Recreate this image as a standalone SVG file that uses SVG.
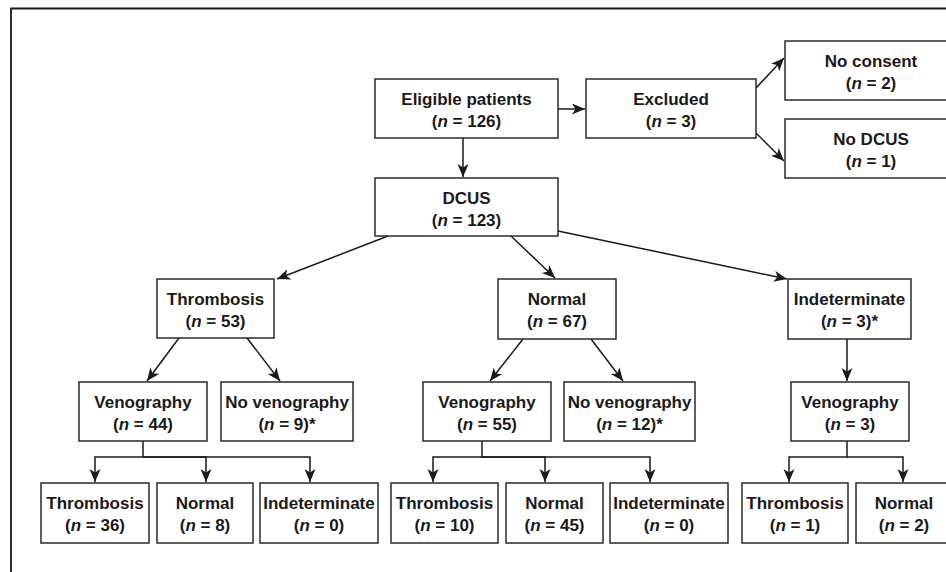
<svg xmlns="http://www.w3.org/2000/svg" width="946" height="572" viewBox="0 0 946 572">
<defs>
<marker id="ah" markerUnits="userSpaceOnUse" markerWidth="14" markerHeight="12" refX="13" refY="5.5" orient="auto">
<path d="M0,0 L13,5.5 L0,11 L3.5,5.5 z" fill="#1a1a1a"/>
</marker>
<style>
rect{fill:#fff;stroke:#2a2a2a;stroke-width:1.5}
text{font-family:"Liberation Sans",Arial,sans-serif;font-weight:bold;font-size:17px;fill:#1a1a1a;text-anchor:middle}
.i{font-style:italic}
#connectors path{fill:none;stroke:#1a1a1a;stroke-width:1.5}
.a{marker-end:url(#ah)}
</style>
</defs>
<rect width="946" height="572" style="stroke:none"/>
<path d="M11,572 V8.5 H946" fill="none" stroke="#1a1a1a" stroke-width="1.8"/>
<g id="connectors">
<path class="a" d="M558,109 H585"/>
<path class="a" d="M756,88 L784,58"/>
<path class="a" d="M756,133 L784,161"/>
<path class="a" d="M463,138 V177"/>
<path class="a" d="M388,236 L277,279"/>
<path class="a" d="M511,236 L555,278"/>
<path class="a" d="M558,231 L787,279"/>
<path class="a" d="M179,338 L147,381"/>
<path class="a" d="M247,338 L280,381"/>
<path class="a" d="M523,339 L490,381"/>
<path class="a" d="M591,339 L623,381"/>
<path class="a" d="M847,339 V381"/>
<path class="a" d="M143,441 V457 H95 V482"/>
<path class="a" d="M143,457 H206 V482"/>
<path class="a" d="M143,457 H310 V482"/>
<path class="a" d="M482,441 V457 H433 V482"/>
<path class="a" d="M482,457 H545 V482"/>
<path class="a" d="M482,457 H650 V482"/>
<path class="a" d="M847,441 V457 H789 V482"/>
<path class="a" d="M847,457 H903 V482"/>
</g>
<g id="eligible"><rect x="375" y="79" width="183" height="59"/><text x="466.5" y="105">Eligible patients</text><text x="466.5" y="127">(<tspan class="i">n</tspan> = 126)</text></g>
<g id="excluded"><rect x="586" y="79" width="170" height="59"/><text x="671" y="105">Excluded</text><text x="671" y="127">(<tspan class="i">n</tspan> = 3)</text></g>
<g id="noconsent"><rect x="785" y="41" width="172" height="59"/><text x="871" y="67">No consent</text><text x="871" y="89">(<tspan class="i">n</tspan> = 2)</text></g>
<g id="nodcus"><rect x="785" y="119" width="172" height="59"/><text x="871" y="145">No DCUS</text><text x="871" y="167">(<tspan class="i">n</tspan> = 1)</text></g>
<g id="dcus"><rect x="375" y="178" width="183" height="58"/><text x="466.5" y="204">DCUS</text><text x="466.5" y="226">(<tspan class="i">n</tspan> = 123)</text></g>
<g id="thrombosis"><rect x="157" y="279" width="117" height="59"/><text x="215.5" y="305">Thrombosis</text><text x="215.5" y="327">(<tspan class="i">n</tspan> = 53)</text></g>
<g id="normal"><rect x="498" y="279" width="118" height="60"/><text x="557" y="305">Normal</text><text x="557" y="327">(<tspan class="i">n</tspan> = 67)</text></g>
<g id="indeterminate"><rect x="788" y="279" width="123" height="60"/><text x="849.5" y="305">Indeterminate</text><text x="849.5" y="327">(<tspan class="i">n</tspan> = 3)*</text></g>
<g id="venoL"><rect x="79" y="382" width="128" height="59"/><text x="143" y="408">Venography</text><text x="143" y="430">(<tspan class="i">n</tspan> = 44)</text></g>
<g id="novenoL"><rect x="221" y="382" width="132" height="59"/><text x="287" y="408">No venography</text><text x="287" y="430">(<tspan class="i">n</tspan> = 9)*</text></g>
<g id="venoM"><rect x="423" y="382" width="128" height="59"/><text x="487" y="408">Venography</text><text x="487" y="430">(<tspan class="i">n</tspan> = 55)</text></g>
<g id="novenoM"><rect x="564" y="382" width="131" height="59"/><text x="629.5" y="408">No venography</text><text x="629.5" y="430">(<tspan class="i">n</tspan> = 12)*</text></g>
<g id="venoR"><rect x="791" y="382" width="118" height="59"/><text x="850" y="408">Venography</text><text x="850" y="430">(<tspan class="i">n</tspan> = 3)</text></g>
<g id="thrL"><rect x="41" y="483" width="108" height="60"/><text x="95" y="509">Thrombosis</text><text x="95" y="531">(<tspan class="i">n</tspan> = 36)</text></g>
<g id="norL"><rect x="157" y="483" width="96" height="60"/><text x="205" y="509">Normal</text><text x="205" y="531">(<tspan class="i">n</tspan> = 8)</text></g>
<g id="indL"><rect x="260" y="483" width="118" height="60"/><text x="319" y="509">Indeterminate</text><text x="319" y="531">(<tspan class="i">n</tspan> = 0)</text></g>
<g id="thrM"><rect x="391" y="483" width="107" height="60"/><text x="444.5" y="509">Thrombosis</text><text x="444.5" y="531">(<tspan class="i">n</tspan> = 10)</text></g>
<g id="norM"><rect x="506" y="483" width="97" height="60"/><text x="554.5" y="509">Normal</text><text x="554.5" y="531">(<tspan class="i">n</tspan> = 45)</text></g>
<g id="indM"><rect x="610" y="483" width="118" height="60"/><text x="669" y="509">Indeterminate</text><text x="669" y="531">(<tspan class="i">n</tspan> = 0)</text></g>
<g id="thrR"><rect x="742" y="483" width="106" height="60"/><text x="795" y="509">Thrombosis</text><text x="795" y="531">(<tspan class="i">n</tspan> = 1)</text></g>
<g id="norR"><rect x="856" y="483" width="96" height="60"/><text x="904" y="509">Normal</text><text x="904" y="531">(<tspan class="i">n</tspan> = 2)</text></g>
</svg>
